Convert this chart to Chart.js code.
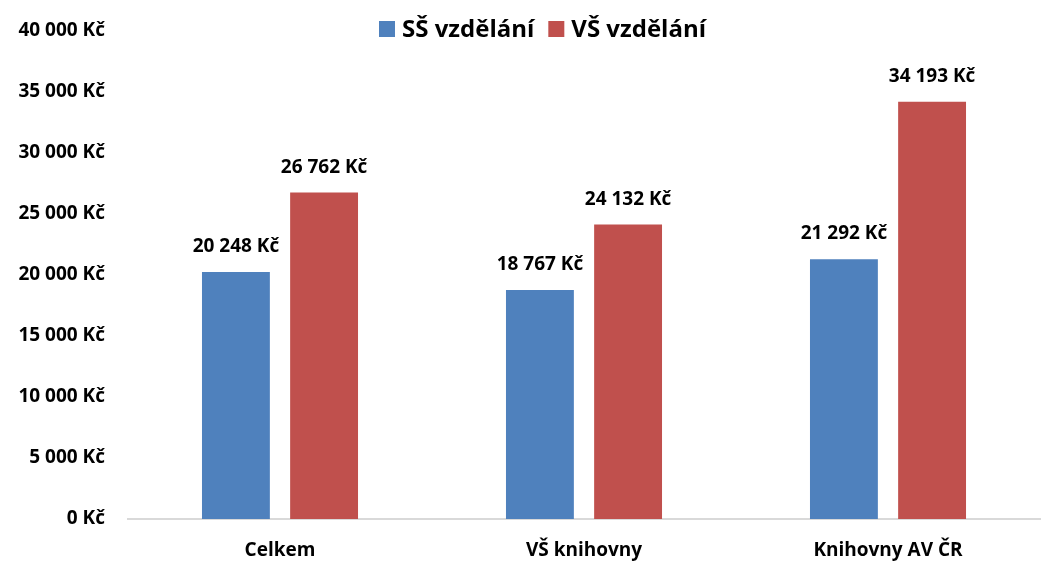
<!DOCTYPE html>
<html>
<head>
<meta charset="utf-8">
<script src="https://cdn.jsdelivr.net/npm/chart.js@4/dist/chart.umd.min.js"></script>
<style>
  html, body { margin: 0; padding: 0; background: #fff; }
  #wrap { width: 1042px; height: 563px; }
</style>
</head>
<body>
<div id="wrap"><canvas id="platy"></canvas></div>
<script>
// kategorie a hodnoty
const kategorie = ['Celkem', 'VŠ knihovny', 'Knihovny AV ČR'];
const ssVzdelani = [20248, 18767, 21292];
const vsVzdelani = [26762, 24132, 34193];
const nazvySerii = ['SŠ vzdělání', 'VŠ vzdělání'];
const barvy = ['#4f81bd', '#c0504d'];

const FONT = '"Open Sans", "Liberation Sans", sans-serif';

function kc(v) {
  return String(Math.round(v)).replace(/\B(?=(\d{3})+(?!\d))/g, ' ') + ' Kč';
}

// popisky nad sloupci
const popisky = {
  id: 'popisky',
  afterDatasetsDraw(chart) {
    const ctx = chart.ctx;
    ctx.save();
    ctx.font = 'bold 19px ' + FONT;
    ctx.fillStyle = '#000';
    ctx.textAlign = 'center';
    ctx.textBaseline = 'alphabetic';
    chart.data.datasets.forEach((ds, i) => {
      chart.getDatasetMeta(i).data.forEach((bar, j) => {
        ctx.fillText(kc(ds.data[j]), bar.x, bar.y - 20);
      });
    });
    ctx.restore();
  }
};

// legenda nahoře uprostřed
const legenda = {
  id: 'legenda',
  afterDraw(chart) {
    const ctx = chart.ctx;
    ctx.save();
    ctx.font = 'bold 24px ' + FONT;
    ctx.textBaseline = 'alphabetic';
    const box = 16, gap = 7, mezi = 14;
    let x = 379;
    const y = 21;
    nazvySerii.forEach((n, i) => {
      ctx.fillStyle = barvy[i];
      ctx.fillRect(x, y, box, box);
      ctx.fillStyle = '#000';
      ctx.fillText(n, x + box + gap, y + 16);
      x += box + gap + ctx.measureText(n).width + mezi;
    });
    ctx.restore();
  }
};

const ctx = document.getElementById('platy').getContext('2d');

new Chart(ctx, {
  type: 'bar',
  data: {
    labels: kategorie,
    datasets: [
      { label: nazvySerii[0], data: ssVzdelani, backgroundColor: barvy[0] },
      { label: nazvySerii[1], data: vsVzdelani, backgroundColor: barvy[1] }
    ]
  },
  options: {
    responsive: true,
    maintainAspectRatio: false,
    animation: false,
    layout: { padding: { top: 31, right: 2, left: 0, bottom: 0 } },
    datasets: { bar: { categoryPercentage: 0.58, barPercentage: 0.77 } },
    plugins: {
      legend: { display: false },
      tooltip: { enabled: false }
    },
    scales: {
      x: {
        grid: { display: false },
        border: { color: '#d9d9d9', width: 2 },
        ticks: { color: '#000', font: { family: FONT, size: 19, weight: 'bold' }, padding: 12 },
        afterFit(s) { s.height = 44; }
      },
      y: {
        min: 0,
        max: 40000,
        grid: { display: false },
        border: { display: false },
        ticks: {
          stepSize: 5000,
          color: '#000',
          padding: 15,
          font: { family: FONT, size: 19, weight: 'bold' },
          callback: v => kc(v)
        },
        afterFit(s) { s.width = 128; }
      }
    }
  },
  plugins: [popisky, legenda]
});
</script>
</body>
</html>
